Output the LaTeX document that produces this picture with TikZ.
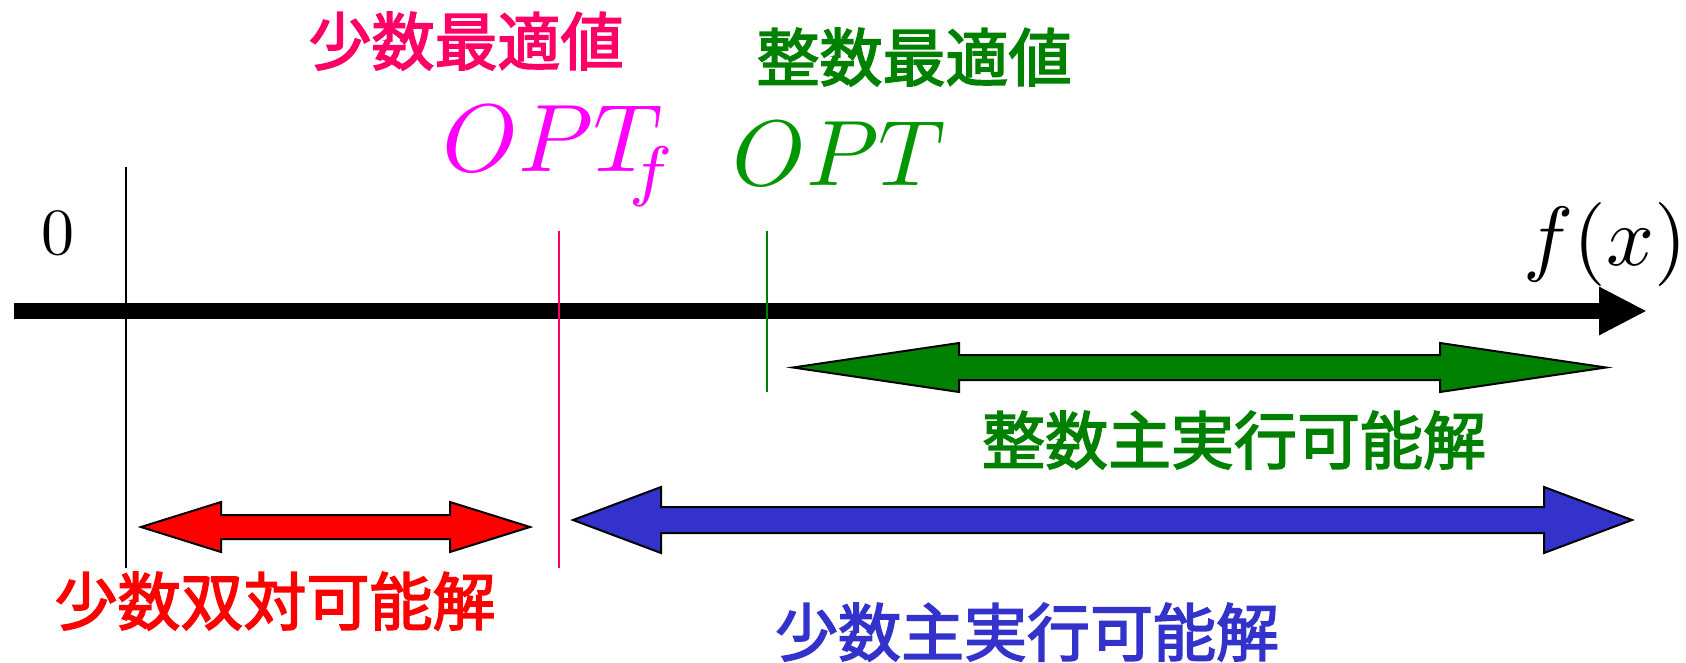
\documentclass[tikz,border=0pt]{standalone}
\usepackage{fontspec}
\newfontfamily\jpfont[FakeBold=2.5]{Noto Sans CJK JP}
\usetikzlibrary{arrows.meta}
\definecolor{pinkred}{RGB}{255,0,102}
\definecolor{magentaC}{RGB}{255,0,255}
\definecolor{greenC}{RGB}{0,128,0}
\definecolor{greenT}{RGB}{0,150,0}
\definecolor{blueC}{RGB}{51,51,204}
\definecolor{redC}{RGB}{255,0,0}
\newcommand\dblarr[7]{%
  \filldraw[fill=#7, draw=black, line width=1pt, line join=miter]
    (#1,#3) -- (#1+#4,#3-#5) -- (#1+#4,#3-#6) -- (#2-#4,#3-#6) -- (#2-#4,#3-#5)
    -- (#2,#3) -- (#2-#4,#3+#5) -- (#2-#4,#3+#6) -- (#1+#4,#3+#6) -- (#1+#4,#3+#5) -- cycle;}
\tikzset{
  jp/.style={inner sep=0pt, anchor=base, font=\jpfont\fontsize{31.5pt}{36pt}\selectfont},
  mathnode/.style={inner sep=0pt, font=\fontsize{10pt}{12pt}\selectfont},
  tick/.style={line width=1pt},
}
\begin{document}
\begin{tikzpicture}[x=0.5pt,y=-0.5pt]
\useasboundingbox (0,0) rectangle (1686,663);
% axis
\coordinate (axL) at (14,311);
\coordinate (axR) at (1647,311);
\draw[line width=8pt, -{Triangle[length=24pt,width=22.5pt]}] (axL) -- (axR);
% ticks
\coordinate (z1) at (126,167); \coordinate (z2) at (126,568);
\coordinate (p1) at (559,231); \coordinate (p2) at (559,568);
\coordinate (g1) at (767,231); \coordinate (g2) at (767,392);
\draw[tick, black] (z1) -- (z2);
\draw[tick, pinkred] (p1) -- (p2);
\draw[tick, greenC] (g1) -- (g2);
% double arrows
\dblarr{793}{1606}{367.5}{166}{24.5}{12.5}{greenC}
\dblarr{141}{530}{527}{80}{25}{12}{redC}
\dblarr{573}{1632}{520}{88}{33}{13}{blueC}
% labels
\node[jp, text=pinkred] (t1) at (466,65) {少数最適値};
\node[jp, text=greenC] (t2) at (914,81) {整数最適値};
\node[jp, text=greenC] (t3) at (1234,464) {整数主実行可能解};
\node[jp, text=redC] (t4) at (275,625) {少数双対可能解};
\node[jp, text=blueC] (t5) at (1027,656) {少数主実行可能解};
\node[mathnode, scale=4.8, anchor=base west, text=magentaC] (optf) at (441,172) {$OPT_{\mkern-5mu\lower0.7pt\hbox{$\scriptstyle f$}}$};
\node[mathnode, scale=4.65, anchor=base west, text=greenT] (opt) at (731,186) {$OPT$};
\node[mathnode, scale=3.3, anchor=base west] (zero) at (40,255) {$0$};
\node[mathnode, scale=4.2, anchor=base east] (fx) at (1689,266) {$f(x)$};
\end{tikzpicture}
\end{document}
